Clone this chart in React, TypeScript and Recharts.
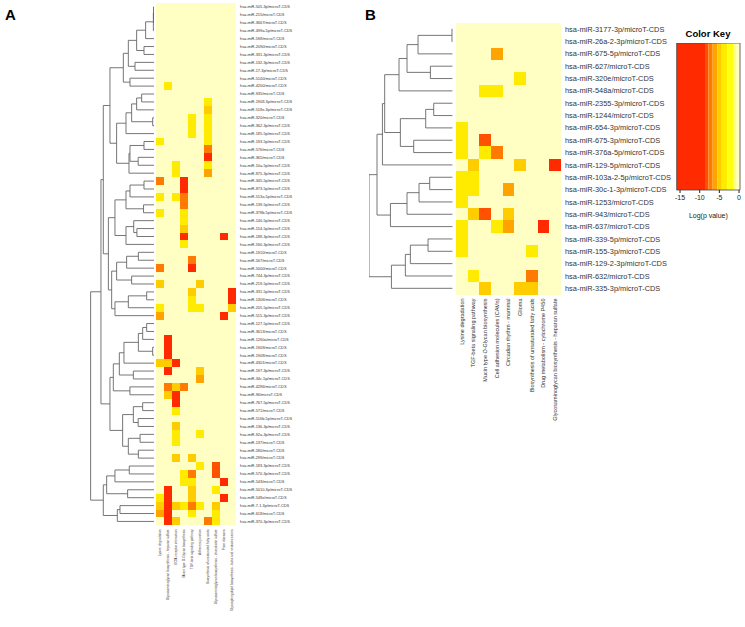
import React from 'react';
import { ScatterChart, Scatter, XAxis, YAxis, ReferenceArea } from 'recharts';

const FONT = '"Liberation Sans", Arial, Helvetica, sans-serif';

// ---------- Panel A ----------
const A_ROWS = [
  'hsa-miR-505-3p/microT-CDS', 'hsa-miR-215/microT-CDS', 'hsa-miR-3667/microT-CDS', 'hsa-miR-499a-5p/microT-CDS',
  'hsa-miR-598/microT-CDS', 'hsa-miR-2090/microT-CDS', 'hsa-miR-331-3p/microT-CDS', 'hsa-miR-132-3p/microT-CDS',
  'hsa-miR-17-3p/microT-CDS', 'hsa-miR-5100/microT-CDS', 'hsa-miR-4200/microT-CDS', 'hsa-miR-935/microT-CDS',
  'hsa-miR-1908-3p/microT-CDS', 'hsa-miR-518e-3p/microT-CDS', 'hsa-miR-320/microT-CDS', 'hsa-miR-362-3p/microT-CDS',
  'hsa-miR-185-5p/microT-CDS', 'hsa-miR-193-5p/microT-CDS', 'hsa-miR-576/microT-CDS', 'hsa-miR-365/microT-CDS',
  'hsa-miR-10a-5p/microT-CDS', 'hsa-miR-875-3p/microT-CDS', 'hsa-miR-345-5p/microT-CDS', 'hsa-miR-873-5p/microT-CDS',
  'hsa-miR-513a-5p/microT-CDS', 'hsa-miR-139-5p/microT-CDS', 'hsa-miR-378b-5p/microT-CDS', 'hsa-miR-140-5p/microT-CDS',
  'hsa-miR-154-5p/microT-CDS', 'hsa-miR-188-3p/microT-CDS', 'hsa-miR-590-3p/microT-CDS', 'hsa-miR-1910/microT-CDS',
  'hsa-miR-567/microT-CDS', 'hsa-miR-5000/microT-CDS', 'hsa-miR-744-3p/microT-CDS', 'hsa-miR-219-5p/microT-CDS',
  'hsa-miR-331-5p/microT-CDS', 'hsa-miR-1306/microT-CDS', 'hsa-miR-205-5p/microT-CDS', 'hsa-miR-515-3p/microT-CDS',
  'hsa-miR-127-5p/microT-CDS', 'hsa-miR-3613/microT-CDS', 'hsa-miR-1260a/microT-CDS', 'hsa-miR-1909/microT-CDS',
  'hsa-miR-1908/microT-CDS', 'hsa-miR-4301/microT-CDS', 'hsa-miR-197-3p/microT-CDS', 'hsa-miR-34c-5p/microT-CDS',
  'hsa-miR-4286/microT-CDS', 'hsa-miR-96/microT-CDS', 'hsa-miR-767-5p/microT-CDS', 'hsa-miR-571/microT-CDS',
  'hsa-miR-516b-5p/microT-CDS', 'hsa-miR-136-3p/microT-CDS', 'hsa-miR-92a-3p/microT-CDS', 'hsa-miR-137/microT-CDS',
  'hsa-miR-580/microT-CDS', 'hsa-miR-299/microT-CDS', 'hsa-miR-183-3p/microT-CDS', 'hsa-miR-570-3p/microT-CDS',
  'hsa-miR-543/microT-CDS', 'hsa-miR-5010-3p/microT-CDS', 'hsa-miR-548e/microT-CDS', 'hsa-miR-7-1-3p/microT-CDS',
  'hsa-miR-618/microT-CDS', 'hsa-miR-370-3p/microT-CDS',
];

const A_COLS = [
  'Lysine degradation',
  'Glycosaminoglycan biosynthesis - heparan sulfate',
  'ECM-receptor interaction',
  'Mucin type O-Glycan biosynthesis',
  'TGF-beta signaling pathway',
  'Adherens junction',
  'Biosynthesis of unsaturated fatty acids',
  'Glycosaminoglycan biosynthesis - chondroitin sulfate',
  'Prion diseases',
  'Glycosphingolipid biosynthesis - lacto and neolacto series',
];

// log(p value) per miRNA (row) and pathway (column)
const A_VALUES: number[][] = [
  [0, 0, 0, 0, 0, 0, 0, 0, 0, 0],
  [0, 0, 0, 0, 0, 0, 0, 0, 0, 0],
  [0, 0, 0, 0, 0, 0, 0, 0, 0, 0],
  [0, 0, 0, 0, 0, 0, 0, 0, 0, 0],
  [0, 0, 0, 0, 0, 0, 0, 0, 0, 0],
  [0, 0, 0, 0, 0, 0, 0, 0, 0, 0],
  [0, 0, 0, 0, 0, 0, 0, 0, 0, 0],
  [0, 0, 0, 0, 0, 0, 0, 0, 0, 0],
  [0, 0, 0, 0, 0, 0, 0, 0, 0, 0],
  [0, 0, 0, 0, 0, 0, 0, 0, 0, 0],
  [0, -3.5, 0, 0, 0, 0, 0, 0, 0, 0],
  [0, 0, 0, 0, 0, 0, 0, 0, 0, 0],
  [0, 0, 0, 0, 0, 0, -3.5, 0, 0, 0],
  [0, 0, 0, 0, 0, 0, -5, 0, 0, 0],
  [0, 0, 0, 0, -3.5, 0, -3.5, 0, 0, 0],
  [0, 0, 0, 0, -3.5, 0, -3.5, 0, 0, 0],
  [0, 0, 0, 0, -3.5, 0, -3.5, 0, 0, 0],
  [-3.5, 0, 0, 0, 0, 0, -3.5, 0, 0, 0],
  [0, 0, 0, 0, 0, 0, -7.2, 0, 0, 0],
  [0, 0, 0, 0, 0, 0, -12, 0, 0, 0],
  [0, 0, -3.5, 0, 0, 0, -3.5, 0, 0, 0],
  [0, 0, -3.5, 0, 0, 0, -6.1, 0, 0, 0],
  [-7.2, 0, 0, -12, 0, 0, 0, 0, 0, 0],
  [0, 0, 0, -12, 0, 0, 0, 0, 0, 0],
  [-3.5, 0, -3.5, -7.2, 0, 0, 0, 0, 0, 0],
  [0, 0, 0, -7.2, 0, 0, 0, 0, 0, 0],
  [-3.5, 0, 0, -3.5, 0, 0, 0, 0, 0, 0],
  [0, 0, 0, -3.5, 0, 0, 0, 0, 0, 0],
  [0, 0, 0, -5, 0, 0, 0, 0, 0, 0],
  [0, 0, 0, -12, 0, 0, 0, 0, -12, 0],
  [0, 0, 0, -3.5, 0, 0, 0, 0, 0, 0],
  [0, 0, 0, 0, 0, 0, 0, 0, 0, 0],
  [0, 0, 0, 0, -7.2, 0, 0, 0, 0, 0],
  [-7.2, 0, 0, 0, -12, 0, 0, 0, 0, 0],
  [0, 0, 0, 0, 0, 0, 0, 0, 0, 0],
  [-5, 0, 0, 0, 0, -5, 0, 0, 0, 0],
  [0, 0, 0, 0, -5, 0, 0, 0, 0, -12],
  [0, 0, 0, 0, -3.5, 0, 0, 0, 0, -12],
  [-3.5, 0, 0, 0, -3.5, -3.5, 0, 0, 0, -5],
  [-6.1, 0, 0, 0, 0, 0, 0, 0, -12, 0],
  [0, 0, 0, 0, 0, 0, 0, 0, 0, 0],
  [0, 0, 0, 0, 0, 0, 0, 0, 0, 0],
  [0, -12, 0, 0, 0, 0, 0, 0, 0, 0],
  [0, -12, 0, 0, 0, 0, 0, 0, 0, 0],
  [0, -12, 0, 0, 0, 0, 0, 0, 0, 0],
  [-5, -5, -12, 0, 0, 0, 0, 0, 0, 0],
  [0, -12, 0, 0, 0, -5, 0, 0, 0, 0],
  [0, 0, 0, 0, 0, -6.1, 0, 0, 0, 0],
  [0, -7.2, -5, -7.2, 0, 0, 0, 0, 0, 0],
  [0, -5, -12, 0, 0, 0, 0, 0, 0, 0],
  [0, 0, -12, 0, 0, 0, 0, 0, 0, 0],
  [0, 0, -3.5, 0, 0, 0, 0, 0, 0, 0],
  [0, 0, 0, 0, 0, 0, 0, 0, 0, 0],
  [0, 0, -5, 0, 0, 0, 0, 0, 0, 0],
  [0, 0, -3.5, 0, 0, -3.5, 0, 0, 0, 0],
  [0, 0, -3.5, 0, 0, 0, 0, 0, 0, 0],
  [0, 0, 0, 0, 0, 0, 0, 0, 0, 0],
  [0, 0, -5, 0, -5, 0, 0, 0, 0, 0],
  [0, 0, 0, 0, 0, -3.5, 0, -8.2, 0, 0],
  [0, 0, 0, -3.5, -7.2, 0, 0, -8.2, 0, 0],
  [0, 0, 0, -3.5, -3.5, 0, 0, 0, -12, 0],
  [0, -12, 0, 0, -5, 0, 0, -3.5, 0, 0],
  [-3.5, -12, 0, 0, -5, 0, 0, 0, -12, 0],
  [-5, -12, -5, -3.5, -7.2, -3.5, 0, -5, 0, 0],
  [-6.1, -12, 0, 0, -3.5, 0, 0, -3.5, 0, 0],
  [0, -12, -5, 0, 0, 0, -7.2, -3.5, 0, 0],
];

// row dendrogram: [height, left, right]; numbers are leaf (row) indices
const A_TREE: any = [10,
  [8.37,
    [8.0,
      [6.95,
        [4.84,
          [4.05,
            [2.74, [1.32, [0.1, [0.08, 0, [0.05, 1, 2]], 3], 4], [1.58, 5, 6]],
            [3.0, 7, 8]],
          [3.79, 9, 10]],
        [5.9,
          [4.42, [3.53, [2.74, [1.95, 11, 12], 13], [0.21, 14, 15]], 16],
          [3.95, [3.79, [1.58, 17, 18], [2.5, 19, 20]], 21]]],
      [7.2,
        [6.16,
          [4.42, [3.79, [1.58, 22, 23], 24], [1.65, 25, 26]],
          [4.42, [3.2, 27, [2.7, 28, 29]], 30]],
        [6.68,
          [5.9, [4.32, [2.47, 31, 32], 33], [3.53, 34, 35]],
          [6.16, [4.05, [1.16, 36, 37], 38], 39]]]],
    [6.95,
      [6.42,
        [5.47, [4.74, [2.47, [1.79, [1.16, 40, 41], 42], [0.21, 43, 44]], 45], [3.26, 46, 47]],
        [3.8, 48, 49]],
      [4.95,
        [3.26, [1.79, 50, 51], [2.5, 52, 53]],
        [4.05, [2.2, 54, 55], [2.47, 56, 57]]]]],
  [8.0,
    [7.47, [6.16, [3.9, 58, 59], 60], [4.16, 61, 62]],
    [5.79, [5.37, 63, 64], 65]]];

// ---------- Panel B ----------
const B_ROWS = [
  'hsa-miR-3177-3p/microT-CDS', 'hsa-miR-26a-2-3p/microT-CDS', 'hsa-miR-675-5p/microT-CDS', 'hsa-miR-627/microT-CDS',
  'hsa-miR-320e/microT-CDS', 'hsa-miR-548a/microT-CDS', 'hsa-miR-2355-3p/microT-CDS', 'hsa-miR-1244/microT-CDS',
  'hsa-miR-654-3p/microT-CDS', 'hsa-miR-675-3p/microT-CDS', 'hsa-miR-376a-5p/microT-CDS', 'hsa-miR-129-5p/microT-CDS',
  'hsa-miR-103a-2-5p/microT-CDS', 'hsa-miR-30c-1-3p/microT-CDS', 'hsa-miR-1253/microT-CDS', 'hsa-miR-943/microT-CDS',
  'hsa-miR-637/microT-CDS', 'hsa-miR-339-5p/microT-CDS', 'hsa-miR-155-3p/microT-CDS', 'hsa-miR-129-2-3p/microT-CDS',
  'hsa-miR-632/microT-CDS', 'hsa-miR-335-3p/microT-CDS',
];

const B_COLS = [
  'Lysine degradation',
  'TGF-beta signaling pathway',
  'Mucin type O-Glycan biosynthesis',
  'Cell adhesion molecules (CAMs)',
  'Circadian rhythm - mammal',
  'Glioma',
  'Biosynthesis of unsaturated fatty acids',
  'Drug metabolism - cytochrome P450',
  'Glycosaminoglycan biosynthesis - heparan sulfate',
];

const B_VALUES: number[][] = [
  [0, 0, 0, 0, 0, 0, 0, 0, 0],
  [0, 0, 0, 0, 0, 0, 0, 0, 0],
  [0, 0, 0, -6.1, 0, 0, 0, 0, 0],
  [0, 0, 0, 0, 0, 0, 0, 0, 0],
  [0, 0, 0, 0, 0, -3.5, 0, 0, 0],
  [0, 0, -3.5, -3.5, 0, 0, 0, 0, 0],
  [0, 0, 0, 0, 0, 0, 0, 0, 0],
  [0, 0, 0, 0, 0, 0, 0, 0, 0],
  [-3.5, 0, 0, 0, 0, 0, 0, 0, 0],
  [-3.5, 0, -8.2, 0, 0, 0, 0, 0, 0],
  [-3.5, 0, -3.5, -7.2, 0, 0, 0, 0, 0],
  [0, -5, 0, 0, 0, -5, 0, 0, -12],
  [-3.5, -3.5, 0, 0, 0, 0, 0, 0, 0],
  [-3.5, -3.5, 0, 0, -6.1, 0, 0, 0, 0],
  [-3.5, 0, 0, 0, 0, 0, 0, 0, 0],
  [0, -5, -8.2, 0, -5, 0, 0, 0, 0],
  [-3.5, 0, 0, -3.5, -6.1, 0, 0, -12, 0],
  [-3.5, 0, 0, 0, 0, 0, 0, 0, 0],
  [-3.5, 0, 0, 0, 0, 0, -3.5, 0, 0],
  [0, 0, 0, 0, 0, 0, 0, 0, 0],
  [0, -3.5, 0, 0, 0, 0, -7.2, 0, 0],
  [0, 0, -5, 0, 0, -5, -5, 0, 0],
];

const B_TREE: any = [10,
  [9.04,
    [8.39,
      [8.12,
        [6.4, [5.44, [4.12, [0.05, 0, 1], 2], [2.64, 3, 4]], 5],
        [6.24, [3.2, [2.24, 6, 7], 8], [4.64, 9, 10]]],
      11],
    [7.43, [5.44, [4.0, [2.72, 12, 13], 14], 15], 16]],
  [7.31, [5.64, [5.04, [2.92, 17, 18], 19], 20], 21]];

// ---------- Colour key ----------
const KEY_BREAKS = [-15.85, -8.65, -7.8, -6.7, -5.5, -4.4, -3.0, -1.5, -0.6, 0.25];
const KEY_COLORS = ['#FF2A00', '#FF5200', '#FF7A00', '#FFA300', '#FFCC00', '#FFEB00', '#FFFF10', '#FFFF80', '#FFFFC4'];
const KEY_TICKS = [-15, -10, -5, 0];

function colorFor(v: number) {
  for (let i = 0; i < KEY_COLORS.length; i++) {
    if (v < KEY_BREAKS[i + 1]) return KEY_COLORS[i];
  }
  return KEY_COLORS[KEY_COLORS.length - 1];
}

const RowTick = (props: any) => {
  const { x, y, payload, labels, fontSize } = props;
  return (
    <text x={x} y={y} dy="0.35em" textAnchor="start" fontSize={fontSize} fill="#333" fontFamily={FONT}>
      {labels[payload.value]}
    </text>
  );
};

const ColTick = (props: any) => {
  const { x, y, payload, labels, fontSize } = props;
  return (
    <text x={x} y={y} dy="0.35em" transform={`rotate(-90 ${x} ${y})`} textAnchor="end" fontSize={fontSize} fill="#333" fontFamily={FONT}>
      {labels[payload.value]}
    </text>
  );
};

function Heatmap(p: {
  rows: string[]; cols: string[]; values: number[][]; left: number; top: number;
  width: number; height: number; labelW: number; labelH: number; rowFont: number; colFont: number;
}) {
  const data: { c: number; r: number; v: number }[] = [];
  p.values.forEach((row, r) => row.forEach((v, c) => data.push({ c, r, v })));
  const cw = p.width / p.cols.length;
  const ch = p.height / p.rows.length;
  return (
    <div style={{ position: 'absolute', left: p.left, top: p.top }}>
      <ScatterChart width={p.width + p.labelW} height={p.height + p.labelH} margin={{ top: 0, right: 0, bottom: 0, left: 0 }}>
        <XAxis type="number" dataKey="c" domain={[-0.5, p.cols.length - 0.5]} ticks={p.cols.map((_, i) => i)} interval={0}
          height={p.labelH} tickLine={false} axisLine={false} tickSize={2} tickMargin={2}
          tick={<ColTick labels={p.cols} fontSize={p.colFont} />} />
        <YAxis type="number" dataKey="r" domain={[-0.5, p.rows.length - 0.5]} reversed orientation="right"
          ticks={p.rows.map((_, i) => i)} interval={0} width={p.labelW} tickLine={false} axisLine={false}
          tickSize={2} tickMargin={2} tick={<RowTick labels={p.rows} fontSize={p.rowFont} />} />
        <Scatter data={data} isAnimationActive={false}
          shape={(s: any) => (
            <rect x={s.cx - cw / 2} y={s.cy - ch / 2} width={cw} height={ch} fill={colorFor(s.payload.v)} shapeRendering="crispEdges" />
          )} />
      </ScatterChart>
    </div>
  );
}

function Dendrogram(p: { tree: any; n: number; hMax: number; left: number; top: number; width: number; height: number }) {
  const segs: { h: number; y: number }[][] = [];
  const walk = (node: any): { h: number; y: number } => {
    if (typeof node === 'number') return { h: 0, y: node };
    const [h, L, R] = node;
    const a = walk(L);
    const b = walk(R);
    segs.push([{ h: a.h, y: a.y }, { h, y: a.y }, { h, y: b.y }, { h: b.h, y: b.y }]);
    return { h, y: (a.y + b.y) / 2 };
  };
  walk(p.tree);
  return (
    <div style={{ position: 'absolute', left: p.left, top: p.top }}>
      <ScatterChart width={p.width} height={p.height} margin={{ top: 0, right: 0, bottom: 0, left: 0 }}>
        <XAxis type="number" dataKey="h" domain={[0, p.hMax]} reversed hide />
        <YAxis type="number" dataKey="y" domain={[-0.5, p.n - 0.5]} reversed hide />
        {segs.map((s, i) => (
          <Scatter key={i} data={s} isAnimationActive={false} line={{ stroke: '#666', strokeWidth: 0.9 }}
            lineType="joint" shape={() => <g />} />
        ))}
      </ScatterChart>
    </div>
  );
}

function ColorKey() {
  const bands = KEY_COLORS.map((c, i) => ({ x1: KEY_BREAKS[i], x2: KEY_BREAKS[i + 1], c }));
  return (
    <div style={{ position: 'absolute', left: 670, top: 43 }}>
      <ScatterChart width={76} height={180} margin={{ top: 0, right: 6, bottom: 0, left: 6.7 }}>
        <XAxis type="number" dataKey="x" domain={[KEY_BREAKS[0], KEY_BREAKS[KEY_BREAKS.length - 1]]} ticks={KEY_TICKS}
          interval={0} height={33} tickSize={3} tickMargin={2} axisLine={false}
          tick={{ fontSize: 7, fill: '#222', fontFamily: FONT }} stroke="#222"
          label={{ value: 'Log(p value)', position: 'insideBottom', offset: 5, fontSize: 7, fill: '#222', fontFamily: FONT }} />
        <YAxis type="number" dataKey="y" domain={[0, 1]} hide />
        {bands.map((b, i) => (
          <ReferenceArea key={i} x1={b.x1} x2={b.x2} y1={0} y2={1} fill={b.c} fillOpacity={1} stroke="none" />
        ))}
        <ReferenceArea x1={KEY_BREAKS[0]} x2={KEY_BREAKS[KEY_BREAKS.length - 1]} y1={0} y2={1} fill="none" stroke="#444" strokeWidth={0.8} />
        <Scatter data={[{ x: -8, y: 0.5 }]} isAnimationActive={false} shape={() => <g />} />
      </ScatterChart>
    </div>
  );
}

export default function App() {
  return (
    <div style={{ position: 'absolute', left: 0, top: 0, width: 745, height: 627, background: '#fff', fontFamily: FONT }}>
      <div style={{ position: 'absolute', left: 5, top: 6, fontSize: 15, fontWeight: 'bold', fontFamily: FONT }}>A</div>
      <div style={{ position: 'absolute', left: 365, top: 6, fontSize: 15, fontWeight: 'bold', fontFamily: FONT }}>B</div>
      <Dendrogram tree={A_TREE} n={A_ROWS.length} hMax={10.1} left={90} top={3.3} width={64} height={522.4} />
      <Heatmap rows={A_ROWS} cols={A_COLS} values={A_VALUES} left={156} top={3.3} width={80} height={522.4}
        labelW={70} labelH={100} rowFont={3.9} colFont={3.2} />
      <Dendrogram tree={B_TREE} n={B_ROWS.length} hMax={10} left={369.3} top={22.8} width={83.4} height={271.5} />
      <Heatmap rows={B_ROWS} cols={B_COLS} values={B_VALUES} left={455.7} top={22.8} width={105} height={271.5}
        labelW={118} labelH={130} rowFont={7.4} colFont={5.5} />
      <div style={{ position: 'absolute', left: 670, width: 76, top: 28, textAlign: 'center', fontSize: 9.5, fontWeight: 'bold', fontFamily: FONT }}>Color Key</div>
      <ColorKey />
    </div>
  );
}
